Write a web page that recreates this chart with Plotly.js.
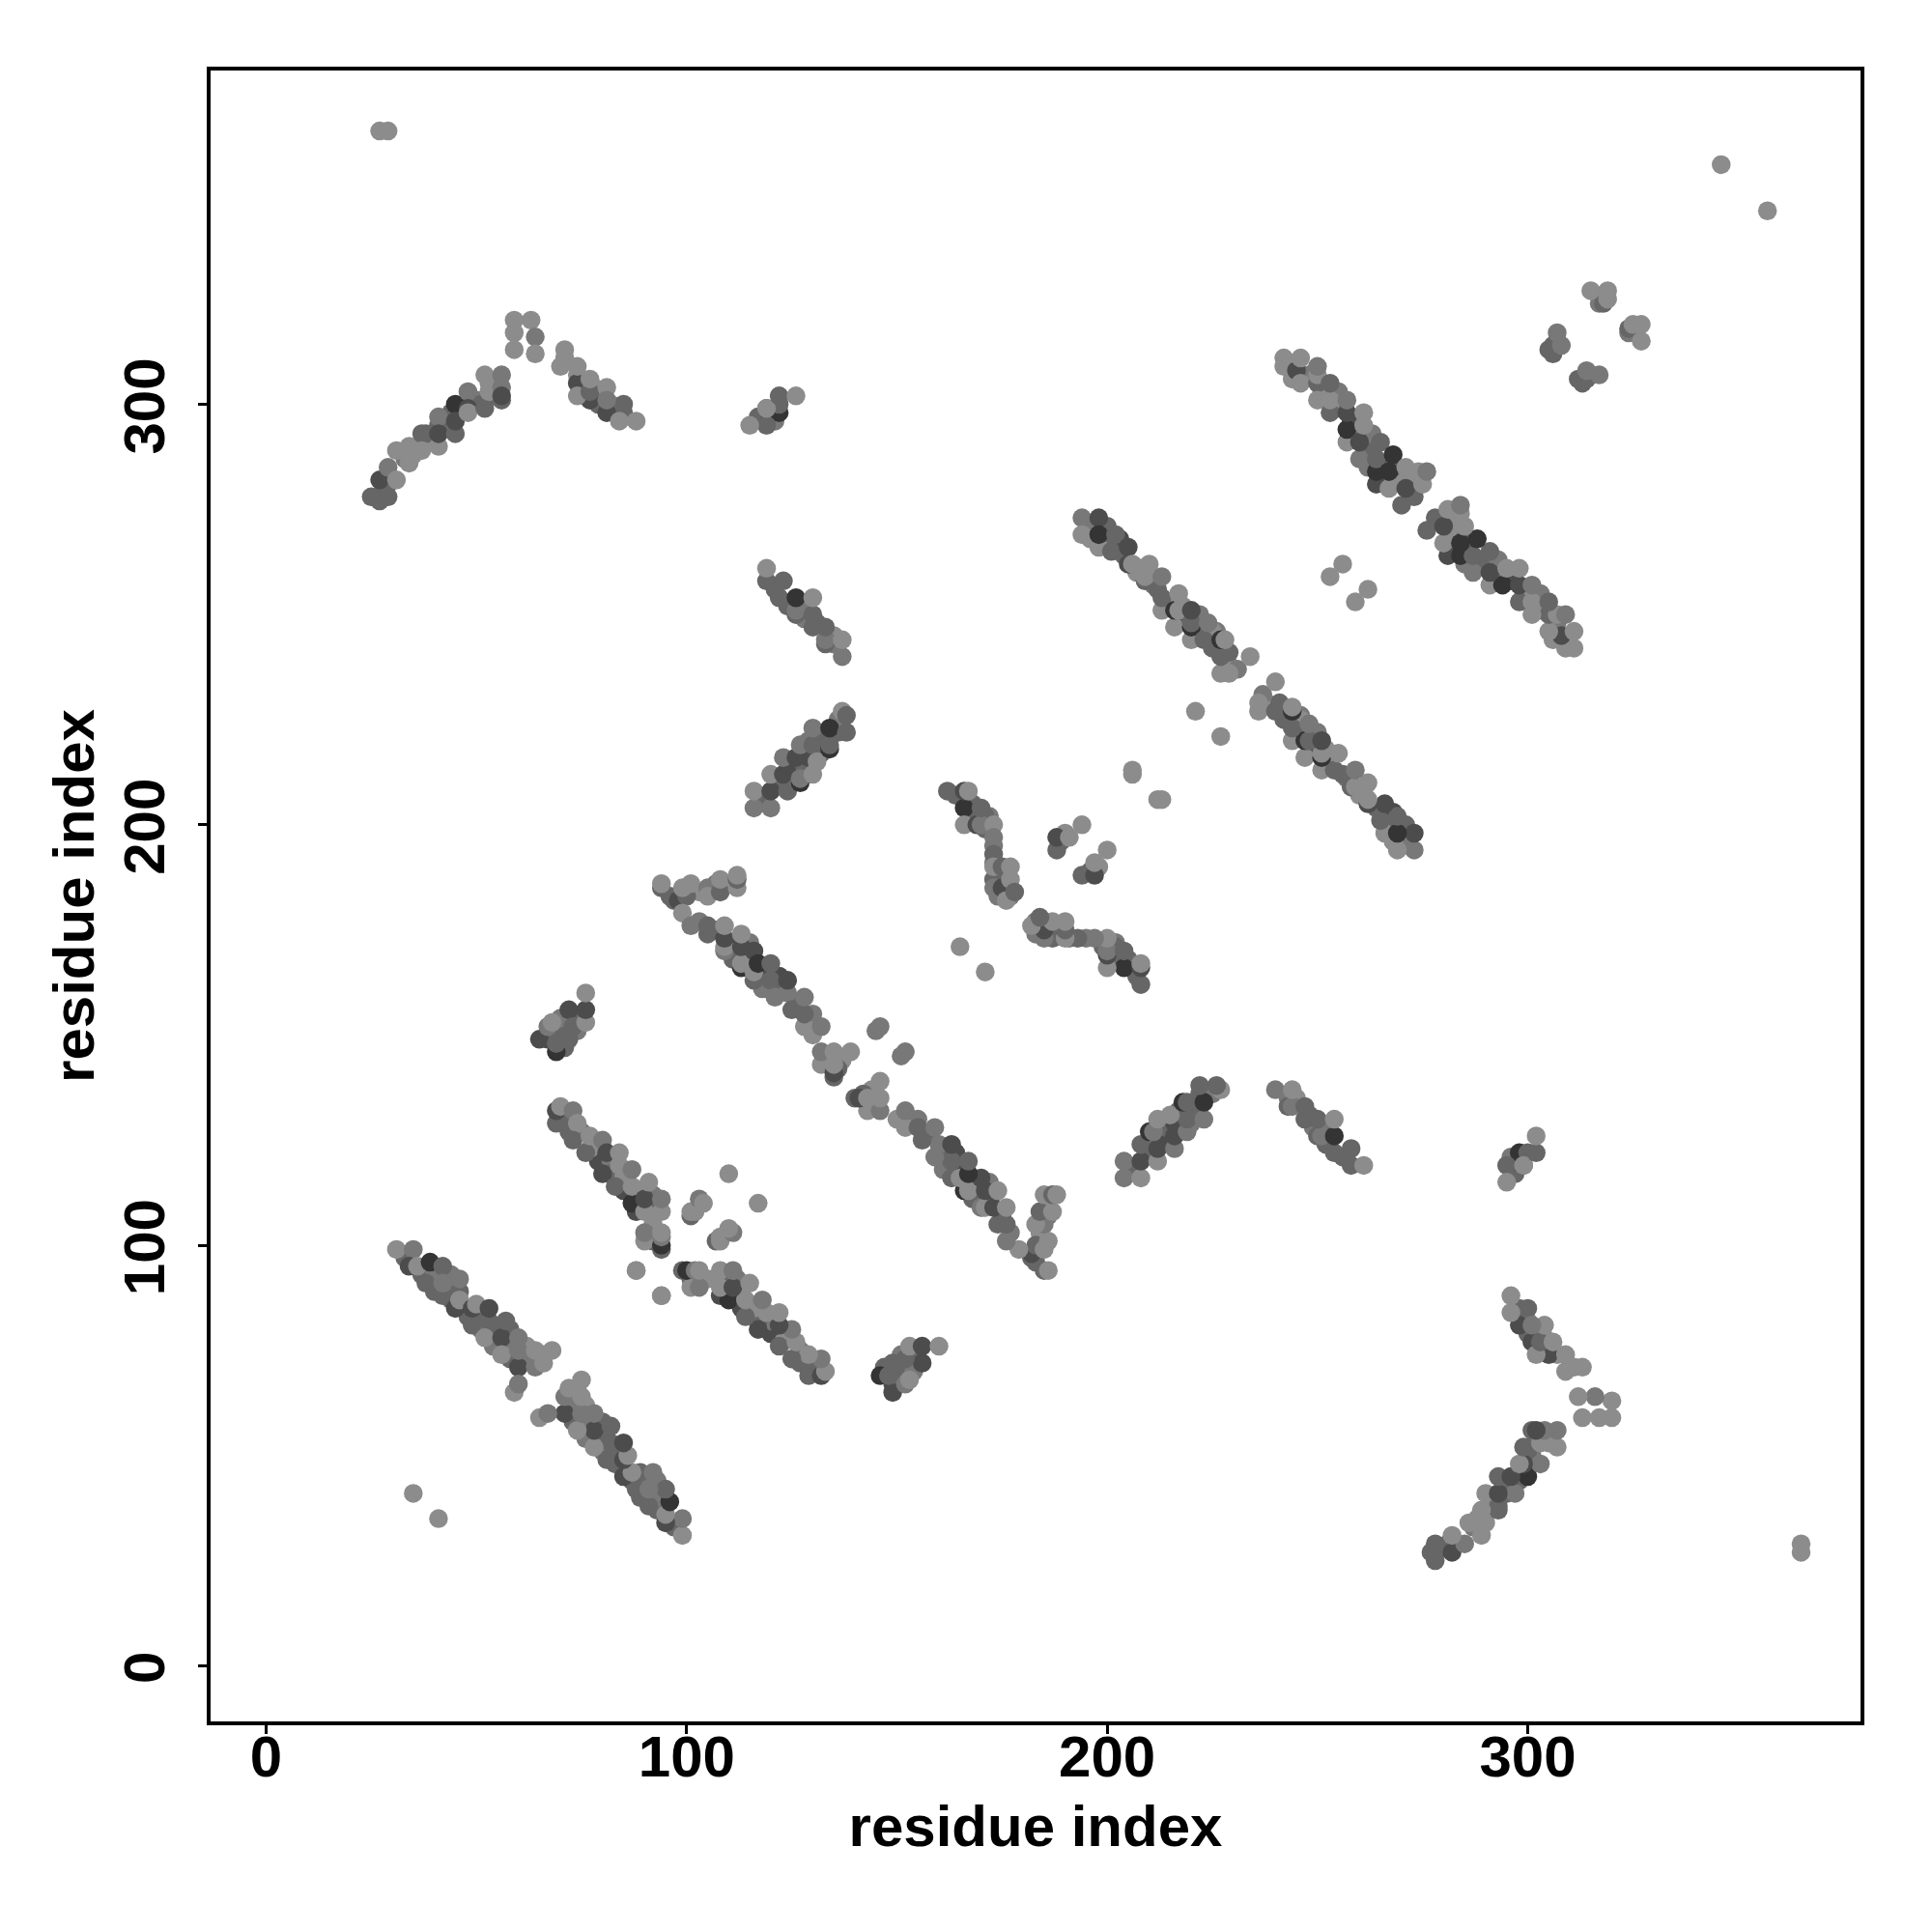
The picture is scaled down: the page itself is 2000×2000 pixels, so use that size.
<!DOCTYPE html>
<html><head><meta charset="utf-8">
<script src="https://cdn.plot.ly/plotly-3.0.1.min.js"></script>
<style>html,body{margin:0;padding:0;background:#fff}</style></head>
<body><div id="chart" style="width:2000px;height:2000px"></div>
<script>
// Contact pairs: residue i, residue j, contact strength (1 light .. 5 dark)
const innerI=[29,28,33,35,38,40,42,44,46,47,50,51,54,55,53,56,41,38,71,74,76,78,80,79,82,83,85,258,259,262,263,266,269,272,255,248,244,251,255,268,273,274,262,264,196,196,200,200,203,204,207,208,211,212,214,215,218,218,222,222,225,226,229,225,229,96,103,107,110,103,107,111,111,115,115,118,118,122,122,126,127,130,130,133,137,136,134,118,122,125,125,128,129,132,132,136,136,129,121,124,128,128,131,135,135,67,70,74,71,68,74,70,71,72,75,78,79,82,82,85,85,86,88,89,92,92,92,92,88,77,33,37,40,40,44,44,47,48,51,51,54,54,58,58,62,62,44,58,66,164,168,168,172,171,174,174,176,176,174,177,173,173,171,175,176,189,190,117,120,121,305,307,317,318];
const innerJ=[281,280,287,288,291,291,295,298,299,300,301,300,302,304,305,301,295,293,311,307,304,304,302,300,300,298,298,296,293,289,293,286,282,283,303,307,306,303,299,285,278,284,285,281,271,268,267,271,268,264,260,261,257,256,253,253,249,252,246,250,242,246,238,246,241,183,184,186,186,177,175,172,168,168,172,165,161,161,164,158,156,155,150,145,144,142,144,206,210,213,210,214,216,217,221,222,225,220,256,252,249,252,248,245,243,149,151,154,147,150,151,154,131,127,127,124,120,120,117,116,113,117,112,113,109,112,105,101,108,123,97,93,93,89,90,87,85,83,83,80,80,76,76,73,73,76,93,80,74,207,202,205,202,199,189,186,188,186,183,183,191,195,202,187,184,196,198,297,297,296,313,315,324,326];
const innerS=[3,3,2,1,3,1,2,3,3,1,2,3,3,2,1,3,3,3,1,1,3,1,2,3,1,2,3,4,3,3,2,4,1,1,2,2,1,1,1,3,3,1,2,4,2,1,3,3,4,3,1,1,2,3,2,1,4,1,3,2,3,2,1,1,3,3,1,2,1,2,3,4,3,4,2,4,2,3,4,3,2,2,1,2,1,3,1,3,3,4,2,3,4,3,3,3,2,2,3,3,2,2,3,1,2,4,3,3,3,3,2,2,3,3,2,3,4,2,3,1,4,1,3,1,3,2,1,3,4,1,3,3,2,3,2,3,3,3,3,2,3,2,2,3,2,1,2,3,1,3,3,3,2,3,2,3,3,2,2,2,2,2,3,5,5,3,1,3,4,2,3,3,2,2];
const arcI=[25,27,27,29,29,31,31,34,34,37,37,41,41,41,45,45,45,48,48,48,52,52,53,56,56,56];
const arcJ=[278,277,282,278,285,282,289,286,290,293,289,290,297,293,293,300,296,303,299,298,307,299,303,307,304,302];
const arcS=[3,3,4,3,2,1,1,1,1,3,1,1,2,4,3,5,4,2,4,1,1,3,1,2,2,4];
const peakI=[74,77,81,59,63,59,64,59,64,70,71,74,74,77,77,81,85,81,84,88];
const peakJ=[305,301,298,320,320,317,316,313,312,309,313,309,302,303,306,304,300,301,296,296];
const peakS=[4,4,4,1,1,1,2,1,1,1,1,1,1,3,1,1,3,2,1,1];
const shortI=[119,122,122,119,119,115,122,126];
const shortJ=[299,298,300,295,299,295,302,302];
const shortS=[4,5,3,3,1,1,3,1];
const fallI=[119,119,123,122,126,126,126,130,130,130,133,133,133,137,137];
const fallJ=[258,261,258,254,250,251,254,247,250,254,243,244,247,240,244];
const fallS=[3,1,3,3,3,2,5,3,3,1,3,2,3,2,1];
const riseI=[116,120,116,120,124,120,123,123,127,127,130,126,127,130,131,130,134,134,134,138,137,138];
const riseJ=[204,204,208,208,208,212,212,216,210,211,212,216,219,219,215,223,218,219,223,222,227,226];
const riseS=[2,2,1,4,3,1,4,2,5,2,1,4,2,3,1,2,5,3,5,3,1,3];
const longI=[94,94,97,98,100,99,101,99,101,105,105,108,108,112,112,112,105,105,109,109,109,109,113,113,113,113,116,116,116,117,120,120,121,124,124,125,128,128,128,132,132,132,135,135,135,135,139,145,146];
const longJ=[185,186,182,182,183,185,186,179,176,185,183,184,187,185,187,188,174,176,170,171,173,176,166,167,171,174,163,165,170,167,163,167,159,160,163,156,152,155,159,152,143,146,140,141,143,146,146,151,152];
const longS=[3,1,3,4,3,1,1,1,2,2,1,3,1,1,3,1,3,3,2,1,4,1,5,1,4,1,3,1,4,5,3,3,2,2,4,3,1,3,2,2,1,2,3,4,1,1,1,2,2];
const tipI=[65,67,68,69,69,72,72,73,76,76,76];
const tipJ=[149,152,153,146,148,149,156,152,153,156,160];
const tipS=[4,2,1,5,3,3,4,3,1,4,1];
const midI=[69,69,70,73,74,73,76,77,80,81,80,83,84,84,87,87,87,90,90,90,90,91,94,94,94,94,94,94,94,88,101,101,102,103,104,110];
const midJ=[129,132,133,132,129,125,122,126,125,122,117,114,119,122,110,114,118,101,103,108,111,115,99,100,102,103,108,111,88,94,107,108,108,111,110,117];
const midS=[3,4,1,2,1,3,3,1,2,4,4,3,1,1,5,1,2,1,2,1,4,1,3,5,2,1,1,2,1,1,3,1,1,2,1,1];
const lowI=[31,35,34,36,39,42,38,42,42,46,46,45,46,49,49,50,53,53,52,56,56,57,60,60,60,64,64,66,68,59,60,35];
const lowJ=[99,99,95,95,96,95,91,88,91,89,92,85,87,81,85,86,82,85,78,78,74,82,78,71,75,71,75,72,75,65,67,41];
const lowS=[1,2,4,1,5,3,3,3,2,3,2,4,1,3,4,1,3,4,1,4,1,3,2,4,2,2,1,1,1,1,2,1];
const bendI=[162,166,166,167,166,169,170,170,173,173,173,173,173,173,175,175,177,177,176,178,165,188,188,191,194];
const bendJ=[208,204,208,208,200,200,200,204,200,197,193,187,185,190,185,190,187,190,182,184,171,194,197,197,200];
const bendS=[3,5,4,1,1,4,2,3,1,2,3,3,2,1,4,3,1,1,1,3,1,3,4,1,1];
const bandI=[194,198,194,198,198,201,202,205,205,206,209,209,210,213,213,213,216,216,217,217,220,220,220,220,223,224,227,227,227,228,231,234,221,229,206,206];
const bandJ=[273,273,269,266,269,265,269,262,266,262,258,259,262,251,254,259,247,251,251,255,244,247,248,251,244,248,236,240,244,244,237,240,227,236,212,213];
const bandS=[2,4,1,1,5,3,3,4,4,1,3,1,1,1,3,2,1,5,1,1,1,5,3,4,3,2,1,3,5,1,2,1,1,1,1,1];
const upperI=[242,242,245,246,246,250,250,250,250,253,253,253,257,257,257,257,260,260,261,261,264,264,265,267,267,268,270,271,271,275,276,253,256];
const upperJ=[309,311,308,305,311,305,301,307,309,298,301,305,291,294,298,301,287,291,295,298,284,287,291,280,284,288,276,280,285,281,284,259,262];
const upperS=[1,1,4,1,1,3,1,1,2,3,1,3,1,5,4,2,2,4,1,1,5,3,3,1,5,5,3,4,1,1,2,1,1];
const cornerI=[306,306,308,307,318,319,315,319,27,29,346];
const cornerJ=[312,314,314,317,324,325,327,327,365,365,357];
const cornerS=[3,3,2,2,3,1,1,1,1,1,1];

const groupsI=[innerI,arcI,peakI,shortI,fallI,riseI,longI,tipI,midI,lowI,bendI,bandI,upperI,cornerI];
const groupsJ=[innerJ,arcJ,peakJ,shortJ,fallJ,riseJ,longJ,tipJ,midJ,lowJ,bendJ,bandJ,upperJ,cornerJ];
const groupsS=[innerS,arcS,peakS,shortS,fallS,riseS,longS,tipS,midS,lowS,bendS,bandS,upperS,cornerS];
const xs=[],ys=[],cs=[];
groupsI.forEach((g,k)=>{
  g.forEach((v,n)=>{xs.push(v);ys.push(groupsJ[k][n]);cs.push(groupsS[k][n]);});
  g.forEach((v,n)=>{xs.push(groupsJ[k][n]);ys.push(v);cs.push(groupsS[k][n]);});
});
const tickVals=[0,100,200,300];
const F={family:'"Liberation Sans", Arial, sans-serif',size:60,color:'#000',weight:700};
const axis={showgrid:false,zeroline:false,showline:true,mirror:true,linecolor:'#000',linewidth:4,
  ticks:'outside',ticklen:9,tickwidth:3,tickcolor:'#000',tickmode:'array',tickvals:tickVals,ticktext:tickVals.map(String),tickfont:F};
Plotly.newPlot('chart',[{type:'scatter',mode:'markers',x:xs,y:ys,
  marker:{size:19.5,line:{width:0},color:cs,cmin:1,cmax:5,
    colorscale:[[0,'#8c8c8c'],[0.25,'#787878'],[0.5,'#666666'],[0.75,'#4c4c4c'],[1,'#343434']],showscale:false},hoverinfo:'skip'}],
 {width:2000,height:2000,margin:{l:218,r:73.5,t:73,b:217.5},paper_bgcolor:'#fff',plot_bgcolor:'#fff',showlegend:false,
  xaxis:Object.assign({},axis,{range:[-13.2,379.13],ticklabelstandoff:-28,title:{text:'residue index',font:F,standoff:19}}),
  yaxis:Object.assign({},axis,{range:[-13.23,379.37],tickangle:-90,ticklabelstandoff:11,ticklabelshift:11,title:{text:'residue index',font:F,standoff:0}})
 },{displayModeBar:false,staticPlot:true});
</script></body></html>
